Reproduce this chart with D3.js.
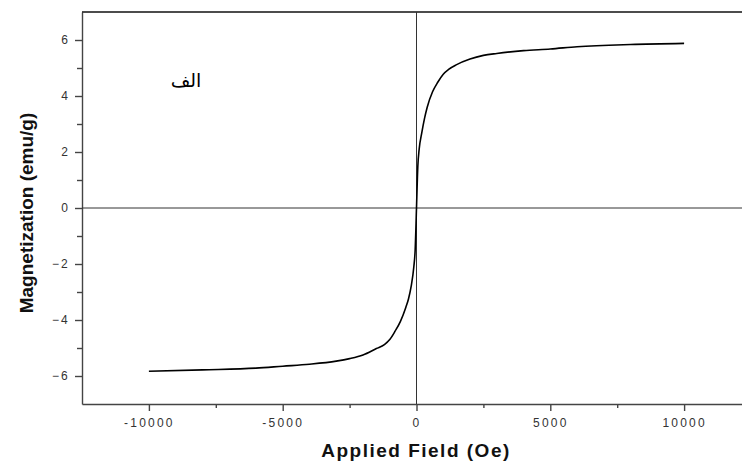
<!DOCTYPE html>
<html>
<head>
<meta charset="utf-8">
<script src="https://cdn.jsdelivr.net/npm/d3@7"></script>
<style>
  body { margin: 0; background: #fff; }
  svg { display: block; }
</style>
</head>
<body>
<div id="chart"></div>
<script>
// field values (Oe) and magnetization (emu/g)
var fieldOe = [-10000, -8000, -6000, -5000, -4000, -3000, -2500, -2000, -1500, -1200, -1000, -800, -600, -400, -300, -200, -100, -50, 0,
               50, 100, 200, 300, 400, 600, 800, 1000, 1200, 1500, 2000, 2500, 3000, 4000, 5000, 6000, 8000, 10000];
var magnetization = [-5.83, -5.78, -5.72, -5.65, -5.58, -5.47, -5.38, -5.25, -5.02, -4.88, -4.7, -4.4, -4.05, -3.55, -3.25, -2.8, -2.1, -1.5, 0,
                     1.5, 2.1, 2.7, 3.2, 3.6, 4.15, 4.5, 4.78, 4.95, 5.12, 5.32, 5.45, 5.52, 5.62, 5.68, 5.76, 5.84, 5.88];
var xMajorTicks = [-10000, -5000, 0, 5000, 10000];
var xMinorTicks = [-7500, -2500, 2500, 7500];
var yMajorTicks = [-6, -4, -2, 0, 2, 4, 6];
var yMinorTicks = [-5, -3, -1, 1, 3, 5];

var width = 742, height = 464;
var svg = d3.select('#chart').append('svg')
    .attr('width', width).attr('height', height);

// magic numbers picked to line up with the reference
var x = d3.scaleLinear().domain([-12500, 12500]).range([82, 751]);
var y = d3.scaleLinear().domain([-7, 7]).range([404, 12]);

var tickFont = 'Arial, "Liberation Sans", sans-serif';

// y axis, major + minor
var yAxis = d3.axisLeft(y).tickValues(yMajorTicks).tickSize(7).tickSizeOuter(0);
var gy = svg.append('g').attr('transform', 'translate(' + x.range()[0] + ',0)').call(yAxis);
svg.append('g').attr('transform', 'translate(' + x.range()[0] + ',0)')
    .call(d3.axisLeft(y).tickValues(yMinorTicks).tickSize(5).tickFormat('').tickSizeOuter(0))
    .call(function(g) { g.select('.domain').remove(); g.selectAll('line').attr('stroke', '#444').attr('stroke-width', 1.4); });

// x axis
var xAxis = d3.axisBottom(x).tickValues(xMajorTicks).tickSize(7).tickSizeOuter(0)
    .tickFormat(function(d) { return d; });
var gx = svg.append('g').attr('transform', 'translate(0,' + y.range()[0] + ')').call(xAxis);
svg.append('g').attr('transform', 'translate(0,' + y.range()[0] + ')')
    .call(d3.axisBottom(x).tickValues(xMinorTicks).tickSize(4).tickFormat('').tickSizeOuter(0))
    .call(function(g) { g.select('.domain').remove(); g.selectAll('line').attr('stroke', '#444').attr('stroke-width', 1.4); });

[gx, gy].forEach(function(g) {
    g.selectAll('path, line').attr('stroke', '#444').attr('stroke-width', 1.4);
    g.selectAll('text')
        .attr('fill', '#333')
        .style('font-family', tickFont)
        .style('font-size', '12px')
        .style('letter-spacing', '2.2px');
});
gx.selectAll('text').attr('dy', '1.1em');
gy.selectAll('text').attr('x', -12);

// top frame line
svg.append('line')
    .attr('x1', x.range()[0]).attr('x2', width)
    .attr('y1', y(7)).attr('y2', y(7))
    .attr('stroke', '#111').attr('stroke-width', 1.4);

// zero lines
svg.append('line')
    .attr('x1', x.range()[0]).attr('x2', width)
    .attr('y1', y(0)).attr('y2', y(0))
    .attr('stroke', '#333').attr('stroke-width', 1);
svg.append('line')
    .attr('x1', x(0)).attr('x2', x(0))
    .attr('y1', y(7)).attr('y2', y(-7))
    .attr('stroke', '#333').attr('stroke-width', 1);

// the curve
var pts = fieldOe.map(function(h, i) { return [h, magnetization[i]]; });
svg.append('path')
    .datum(pts)
    .attr('fill', 'none')
    .attr('stroke', '#000')
    .attr('stroke-width', 1.6)
    .attr('d', d3.line()
        .x(function(d) { return x(d[0]); })
        .y(function(d) { return y(d[1]); })
        .curve(d3.curveMonotoneX));

// label inside the plot
svg.append('text')
    .attr('x', 186).attr('y', 87)
    .attr('text-anchor', 'middle')
    .style('font-family', '"DejaVu Sans", "Noto Sans", sans-serif')
    .style('font-size', '19px')
    .attr('fill', '#000')
    .text('الف');

// axis titles
svg.append('text')
    .attr('x', 416).attr('y', 457)
    .attr('text-anchor', 'middle')
    .style('font-family', tickFont)
    .style('font-weight', 'bold')
    .style('font-size', '19px')
    .style('letter-spacing', '1.5px')
    .attr('fill', '#111')
    .text('Applied Field (Oe)');

svg.append('text')
    .attr('transform', 'translate(33,213) rotate(-90)')
    .attr('text-anchor', 'middle')
    .style('font-family', tickFont)
    .style('font-weight', 'bold')
    .style('font-size', '19px')
    .attr('fill', '#111')
    .text('Magnetization (emu/g)');
</script>
</body>
</html>
